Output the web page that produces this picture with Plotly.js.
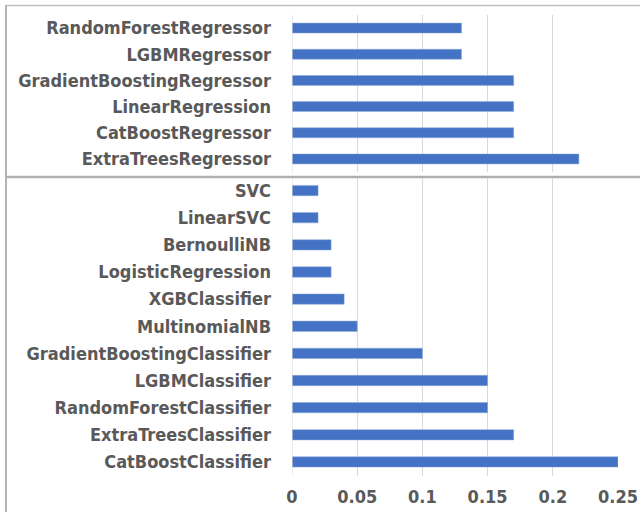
<!DOCTYPE html>
<html>
<head>
<meta charset="utf-8">
<script src="https://cdn.plot.ly/plotly-3.0.1.min.js"></script>
<style>html,body{margin:0;padding:0;background:#fff;}#chart{width:640px;height:512px;}</style>
</head>
<body>
<div id="chart"></div>
<script>
// Top chart (regressors), listed top to bottom
const regModels = ["RandomForestRegressor","LGBMRegressor","GradientBoostingRegressor","LinearRegression","CatBoostRegressor","ExtraTreesRegressor"];
const regValues = [0.13,0.13,0.17,0.17,0.17,0.22];
// Bottom chart (classifiers), listed top to bottom
const clfModels = ["SVC","LinearSVC","BernoulliNB","LogisticRegression","XGBClassifier","MultinomialNB","GradientBoostingClassifier","LGBMClassifier","RandomForestClassifier","ExtraTreesClassifier","CatBoostClassifier"];
const clfValues = [0.02,0.02,0.03,0.03,0.04,0.05,0.10,0.15,0.15,0.17,0.25];
const xTicks = [0,0.05,0.1,0.15,0.2,0.25];
const xTickText = ["0","0.05","0.1","0.15","0.2","0.25"];

const FONT = '"DejaVu Sans Condensed", "Liberation Sans Narrow", Roboto, sans-serif';
const BAR = '#4472C4';
const GRID = '#d9d9d9';
const TXT = '#595959';

const traces = [
  {type:'bar', orientation:'h', x:regValues, y:regModels, xaxis:'x', yaxis:'y',
   marker:{color:BAR, line:{color:'#8faadc', width:0.5}}, hoverinfo:'x+y'},
  {type:'bar', orientation:'h', x:clfValues, y:clfModels, xaxis:'x2', yaxis:'y2',
   marker:{color:BAR, line:{color:'#8faadc', width:0.5}}, hoverinfo:'x+y'}
];

const H = 512, W = 640;
const px = v => v / W;
const py = v => 1 - v / H;

const xcommon = {range:[0,0.25], tickvals:xTicks, ticktext:xTickText, showgrid:true, gridcolor:GRID, gridwidth:1,
  zeroline:false, showline:false, ticks:'', fixedrange:true, domain:[px(292), px(618)]};
const LBL = {family:FONT, size:18, color:TXT, weight:'bold'};

const layout = {
  width:W, height:H, margin:{l:0,r:0,t:0,b:0}, paper_bgcolor:'#fff', plot_bgcolor:'#fff',
  showlegend:false, bargap:0.62,
  font:{family:FONT, color:TXT, size:16},
  xaxis: Object.assign({}, xcommon, {anchor:'y', showticklabels:false}),
  yaxis: {domain:[py(172), py(15)], anchor:'x', autorange:'reversed', type:'category',
    tickfont:LBL, ticklabelstandoff:20, showgrid:false, ticks:''},
  xaxis2: Object.assign({}, xcommon, {anchor:'y2', showticklabels:true, tickfont:LBL, ticklabelstandoff:8}),
  yaxis2: {domain:[py(475.5), py(177)], anchor:'x2', autorange:'reversed', type:'category',
    tickfont:LBL, ticklabelstandoff:20, showgrid:false, ticks:''},
  shapes:[
    // zero lines
    {type:'line', xref:'x', yref:'paper', x0:0, x1:0, y0:py(172), y1:py(15), line:{color:GRID, width:1}},
    {type:'line', xref:'x2', yref:'paper', x0:0, x1:0, y0:py(475.5), y1:py(177), line:{color:GRID, width:1}},
    // chart borders
    {type:'line', xref:'paper', yref:'paper', x0:px(6), x1:1.01, y0:py(5.5), y1:py(5.5), line:{color:'#bfbfbf', width:1.5}},
    {type:'line', xref:'paper', yref:'paper', x0:px(6), x1:px(6), y0:py(5), y1:-0.01, line:{color:'#b4b4b4', width:2}},
    {type:'line', xref:'paper', yref:'paper', x0:px(6), x1:1.01, y0:py(177), y1:py(177), line:{color:'#b0b0b0', width:2.5}}
  ]
};

Plotly.newPlot('chart', traces, layout, {displayModeBar:false, staticPlot:true});
</script>
</body>
</html>
